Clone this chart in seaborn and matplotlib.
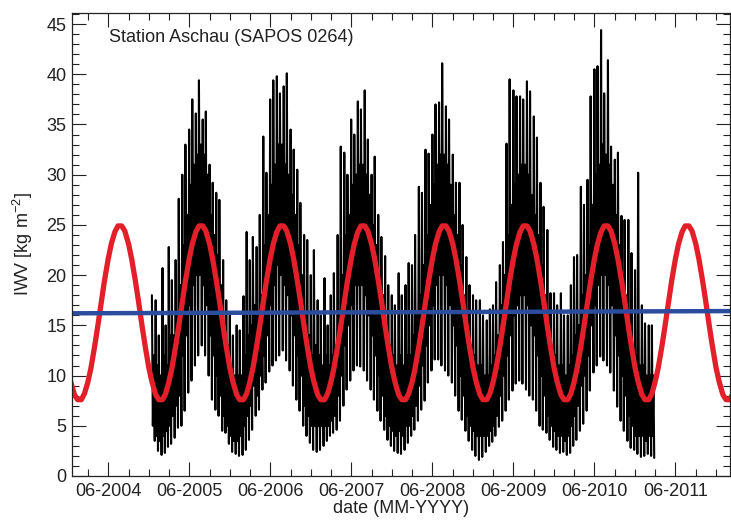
import pandas as pd
import matplotlib
matplotlib.use('Agg')
import matplotlib.pyplot as plt
import matplotlib.dates as mdates
from matplotlib.ticker import MultipleLocator
import seaborn as sns

# ---- data ----------------------------------------------------------------
# GPS IWV record, binned by half month (bins start on the 1st and 15th),
# from 15 Dec 2004 to 1 Mar 2011. For each bin: highest spike, top and bottom
# of the dense core, lowest spike (kg m-2).
bin_edges = pd.date_range('2004-12-15', periods=150, freq='SMS')

iwv_max = [
    18.0,
    17.5, 14.0, 20.7, 15.0, 22.8, 19.5, 21.5, 27.6, 30.0, 33.0, 34.5, 37.5,
    36.1, 39.4, 35.5, 36.3, 31.0, 29.2, 28.2, 27.5, 21.5, 17.5, 16.0, 14.0,   # 2005
    15.0, 14.5, 17.9, 24.3, 21.5, 23.8, 22.8, 26.0, 33.8, 30.2, 37.5, 39.4,
    39.8, 38.1, 38.8, 40.1, 34.5, 32.5, 30.5, 27.2, 24.0, 23.5, 20.0, 22.5,   # 2006
    17.5, 16.0, 19.7, 15.0, 18.0, 20.2, 24.0, 32.8, 32.2, 30.0, 35.5, 34.0,
    37.3, 36.5, 38.4, 33.5, 30.0, 31.8, 26.0, 23.8, 21.9, 19.0, 18.0, 17.0,   # 2007
    20.2, 18.0, 19.0, 21.2, 21.0, 24.0, 28.8, 28.2, 32.5, 32.1, 34.0, 37.0,
    37.2, 41.1, 36.8, 35.5, 32.0, 29.2, 29.2, 25.0, 21.8, 19.0, 18.0, 17.5,   # 2008
    17.5, 16.0, 15.5, 16.6, 17.0, 19.3, 21.0, 23.3, 33.1, 39.5, 38.4, 37.8,
    37.8, 37.5, 39.3, 38.3, 35.8, 33.7, 29.2, 26.8, 24.5, 18.2, 18.2, 17.0,   # 2009
    18.2, 16.0, 16.0, 19.0, 21.8, 22.0, 28.8, 27.0, 29.5, 37.8, 40.5, 40.8,
    44.4, 38.1, 41.4, 32.8, 31.5, 32.2, 25.9, 25.5, 25.5, 22.2, 20.5, 30.2,   # 2010
    17.0, 15.2, 15.0, 15.0,                                                   # 2011
]
iwv_core_hi = [
    12.0,
    11.0, 10.0, 12.0, 11.0, 14.0, 14.0, 16.0, 19.0, 23.0, 26.0, 29.0, 31.0,
    32.0, 33.0, 32.0, 30.0, 26.0, 24.0, 22.0, 19.0, 15.0, 13.0, 11.0, 10.0,   # 2005
    10.0, 10.0, 12.0, 14.0, 15.0, 17.0, 16.0, 18.0, 23.0, 26.0, 29.0, 31.0,
    33.0, 33.0, 31.0, 30.0, 28.0, 26.0, 23.0, 20.0, 16.0, 14.0, 12.0, 13.0,   # 2006
    12.0, 11.0, 12.0, 11.0, 12.0, 13.0, 16.0, 20.0, 24.0, 26.0, 29.0, 30.0,
    31.0, 31.0, 30.0, 28.0, 25.0, 23.0, 20.0, 18.0, 15.0, 13.0, 12.0, 11.0,   # 2007
    12.0, 11.0, 12.0, 12.0, 14.0, 16.0, 18.0, 21.0, 24.0, 27.0, 29.0, 31.0,
    32.0, 32.0, 31.0, 29.0, 26.0, 24.0, 21.0, 18.0, 15.0, 13.0, 12.0, 11.0,   # 2008
    11.0, 10.0, 10.0, 11.0, 12.0, 14.0, 17.0, 20.0, 24.0, 27.0, 29.0, 30.0,
    31.0, 31.0, 30.0, 28.0, 26.0, 24.0, 21.0, 18.0, 15.0, 13.0, 12.0, 11.0,   # 2009
    11.0, 10.0, 11.0, 12.0, 14.0, 15.0, 18.0, 20.0, 23.0, 27.0, 30.0, 31.0,
    33.0, 32.0, 31.0, 29.0, 26.0, 23.0, 20.0, 18.0, 15.0, 13.0, 12.0, 11.0,   # 2010
    11.0, 10.0, 10.0, 10.0,                                                   # 2011
]
iwv_core_lo = [
    5.0,
    4.0, 3.5, 4.0, 4.5, 5.0, 6.0, 7.0, 8.0, 12.0, 14.0, 17.0, 19.0,
    20.0, 20.0, 19.0, 17.0, 14.0, 12.0, 10.0, 8.0, 6.0, 5.0, 4.0, 3.5,       # 2005
    3.5, 4.0, 5.0, 6.0, 7.0, 9.0, 8.0, 10.0, 12.0, 14.0, 17.0, 19.0,
    21.0, 20.0, 19.0, 18.0, 16.0, 14.0, 12.0, 10.0, 7.0, 6.0, 5.0, 5.0,      # 2006
    5.0, 5.0, 5.0, 5.0, 5.5, 6.0, 8.0, 10.0, 13.0, 15.0, 17.0, 19.0,
    19.0, 19.0, 18.0, 16.0, 14.0, 12.0, 10.0, 8.0, 6.0, 5.0, 4.5, 4.0,       # 2007
    4.5, 4.0, 5.0, 5.0, 6.0, 7.0, 9.0, 11.0, 13.0, 15.0, 17.0, 19.0,
    20.0, 20.0, 19.0, 17.0, 15.0, 13.0, 10.0, 8.0, 6.0, 5.0, 4.5, 4.0,       # 2008
    4.0, 4.0, 4.0, 4.5, 5.0, 6.0, 8.0, 10.0, 12.0, 14.0, 16.0, 17.0,
    18.0, 18.0, 17.0, 15.0, 14.0, 12.0, 10.0, 8.0, 6.0, 5.0, 4.5, 4.0,       # 2009
    4.0, 3.5, 4.0, 5.0, 6.0, 7.0, 9.0, 10.0, 12.0, 15.0, 17.0, 19.0,
    20.0, 20.0, 19.0, 17.0, 14.0, 12.0, 10.0, 8.0, 6.0, 5.0, 4.0, 4.0,       # 2010
    4.0, 3.5, 4.0, 4.0,                                                       # 2011
]
iwv_min = [
    3.5,
    2.5, 2.1, 2.3, 2.9, 3.2, 3.8, 4.8, 5.0, 6.5, 8.3, 9.5, 11.0,
    12.0, 13.0, 12.0, 10.0, 7.6, 6.6, 6.0, 4.5, 4.3, 3.2, 2.4, 2.2,          # 2005
    2.0, 2.1, 2.6, 3.6, 4.6, 6.0, 6.6, 8.6, 9.3, 10.4, 11.0, 11.5,
    12.0, 12.5, 11.5, 10.5, 9.0, 7.6, 6.5, 5.0, 4.0, 3.3, 2.6, 2.4,          # 2006
    2.6, 3.0, 3.5, 4.0, 4.3, 4.6, 5.5, 7.0, 8.6, 9.5, 10.5, 11.0,
    10.9, 10.5, 9.5, 8.6, 7.6, 6.5, 5.5, 4.6, 3.6, 3.0, 2.5, 2.3,            # 2007
    2.2, 2.6, 3.3, 4.0, 4.6, 5.5, 6.6, 7.5, 9.3, 10.5, 11.6, 11.6,
    11.0, 10.5, 10.0, 9.3, 8.0, 6.5, 5.6, 4.5, 3.5, 2.6, 2.0, 1.6,           # 2008
    1.9, 2.4, 3.0, 3.4, 4.0, 4.9, 5.5, 6.5, 7.6, 8.5, 9.2, 9.5,
    9.2, 8.6, 8.0, 7.6, 6.5, 5.0, 4.6, 4.3, 3.6, 2.9, 2.6, 2.3,              # 2009
    2.4, 2.1, 2.3, 3.0, 3.6, 4.5, 5.2, 6.5, 8.5, 10.3, 11.0, 11.9,
    11.5, 11.0, 10.3, 8.5, 6.9, 5.5, 4.5, 3.5, 2.8, 2.6, 2.2, 1.9,           # 2010
    2.0, 2.2, 2.0, 1.8,                                                       # 2011
]

# fitted annual cycle (red), values on the 1st and 15th of each month
seasonal_fit = [8.1, 7.6, 7.6, 8.2, 9.3, 10.7, 12.9, 14.9, 17.3, 19.4, 21.6, 23.1,
                24.3, 24.9, 24.9, 24.4, 23.1, 21.6, 19.5, 17.5, 14.9, 12.9, 10.8, 9.4]
fit_dates = pd.date_range('2003-12-01', '2012-03-01', freq='SMS')
fit_vals = [seasonal_fit[(d.month - 1) * 2 + (d.day > 1)] for d in fit_dates]

# mean / trend (blue)
mean_dates = pd.to_datetime(['2003-12-21', '2012-02-02'])
mean_vals = [16.2, 16.42]

# spread the four values of each bin through the bin
times, vals = [], []
for i in range(len(iwv_max)):
    t0 = bin_edges[i]
    w = bin_edges[i + 1] - t0
    for f, v in zip([0.0, 0.25, 0.5, 0.75],
                    [iwv_max[i], iwv_core_lo[i], iwv_core_hi[i], iwv_min[i]]):
        times.append(t0 + f * w)
        vals.append(v)
obs = pd.DataFrame({'date': times, 'iwv': vals})
fit = pd.DataFrame({'date': fit_dates, 'iwv': fit_vals})
mean = pd.DataFrame({'date': mean_dates, 'iwv': mean_vals})

# ---- plot ----------------------------------------------------------------
sns.set_style('ticks')
plt.rcParams['font.family'] = ['Liberation Sans', 'DejaVu Sans']
plt.rcParams['mathtext.default'] = 'regular'

fig = plt.figure(figsize=(7.31, 5.20), dpi=100)
ax = fig.add_axes([72 / 731, 44 / 520, 658 / 731, 463 / 520])

sns.lineplot(data=obs, x='date', y='iwv', ax=ax, color='black', linewidth=1.5,
             estimator=None, sort=False)
sns.lineplot(data=fit, x='date', y='iwv', ax=ax, color='#e3202a', linewidth=3.8,
             estimator=None, sort=False)
sns.lineplot(data=mean, x='date', y='iwv', ax=ax, color='#2c4c9e', linewidth=3.2,
             estimator=None, sort=False)

ax.set_xlim(pd.Timestamp('2003-12-21'), pd.Timestamp('2012-02-02'))
ax.set_ylim(0, 46.1)

ax.xaxis.set_major_locator(mdates.MonthLocator(bymonth=6))
ax.xaxis.set_major_formatter(mdates.DateFormatter('%m-%Y'))
ax.xaxis.set_minor_locator(mdates.MonthLocator(bymonth=[3, 9, 12]))
ax.yaxis.set_major_locator(MultipleLocator(5))
ax.yaxis.set_minor_locator(MultipleLocator(1))

ax.tick_params(which='both', direction='in', top=True, right=True,
               width=0.8, labelsize=13, colors='#222222')
ax.tick_params(which='major', length=10)
ax.tick_params(which='minor', length=5)
ax.tick_params(axis='x', pad=5)
ax.tick_params(axis='y', pad=4)
for s in ax.spines.values():
    s.set_linewidth(0.9)
    s.set_color('#222222')

ax.set_xlabel('date (MM-YYYY)', fontsize=13, labelpad=0, color='#222222')
ax.set_ylabel('IWV [kg m$^{-2}$]', fontsize=13, labelpad=8, color='#222222')
ax.text(0.056, 0.948, 'Station Aschau (SAPOS 0264)', transform=ax.transAxes,
        fontsize=13, va='center', color='#222222')

fig.savefig('out.png', dpi=100)
